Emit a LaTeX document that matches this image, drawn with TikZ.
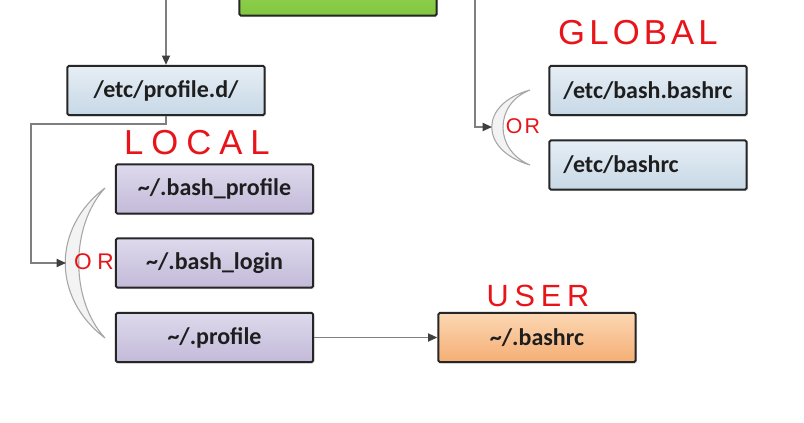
\documentclass[tikz,border=0pt]{standalone}
\usepackage{fontspec}
\setmainfont{Carlito}
\newfontfamily\handfont{Liberation Sans}
\usetikzlibrary{arrows.meta,shadows}

\definecolor{boxtext}{HTML}{1E1E1E}
\definecolor{conngray}{HTML}{7F7F7F}
\definecolor{tipgray}{HTML}{3F3F3F}
\definecolor{handred}{HTML}{E8141A}
\definecolor{greentop}{HTML}{A2DC66}
\definecolor{greenbot}{HTML}{80C63E}
\definecolor{bluetop}{HTML}{E6EEF5}
\definecolor{bluebot}{HTML}{C7D8E6}
\definecolor{purptop}{HTML}{DED9EC}
\definecolor{purpbot}{HTML}{C3BAD9}
\definecolor{orantop}{HTML}{FCD7B3}
\definecolor{oranbot}{HTML}{F5AE74}
\definecolor{moonfill}{HTML}{F3F3F3}
\definecolor{moonline}{HTML}{A6A6A6}

\tikzset{
	filebox/.style={draw=black!85, line width=1.5pt, rounded corners=1.2pt,
		minimum width=148pt, minimum height=37pt, inner sep=0pt,
		text=boxtext, font=\bfseries\fontsize{18}{20}\selectfont,
		drop shadow={opacity=0.2, shadow xshift=1pt, shadow yshift=-1pt}},
	leftbox/.style={filebox, text width=127pt, inner xsep=10.5pt, align=left},
	greenbox/.style={filebox, top color=greentop, bottom color=greenbot},
	bluebox/.style={top color=bluetop, bottom color=bluebot},
	purplebox/.style={filebox, top color=purptop, bottom color=purpbot},
	orangebox/.style={filebox, top color=orantop, bottom color=oranbot},
	conn/.style={draw=conngray, line width=1.3pt, -{Triangle[length=7pt, width=6pt, color=tipgray]}},
	moon/.style={fill=moonfill, draw=moonline, line width=0.8pt},
	hand/.style={text=handred, inner sep=0pt},
}

\begin{document}
\begin{tikzpicture}[x=0.75pt, y=-0.75pt]
		\clip (0,0) rectangle (804,422);
		\fill[white] (0,0) rectangle (804,422);
		
		\node[greenbox] (prof0) at (338,-9) {};
		\node[filebox, bluebox] (profd) at (166,90.5) {/etc/profile.d/};
		\node[leftbox, bluebox] (bbash) at (648,90.5) {/etc/bash.bashrc};
		\node[leftbox, bluebox] (ebash) at (648,165) {/etc/bashrc};
		\node[purplebox] (bprof) at (214.5,189) {\textasciitilde/.bash\_profile};
		\node[purplebox] (blogin) at (214.5,263) {\textasciitilde/.bash\_login};
		\node[purplebox] (uprof) at (214.5,337.5) {\textasciitilde/.profile};
		\node[orangebox] (ubash) at (537,337.5) {\textasciitilde/.bashrc};
		
		\path[moon] (105,188) .. controls (52,228) and (52,298) .. (105,338)
			.. controls (70,300) and (70,226) .. cycle;
		\path[moon] (530,90) .. controls (479,104) and (479,150) .. (530,165)
			.. controls (494,150) and (494,104) .. cycle;
		
		\coordinate (inL) at (166,0);
		\coordinate (inR) at (475,0);
		\coordinate (bend) at (31,124);
		\coordinate (orL) at (66,263);
		\coordinate (orR) at (492,127);
		
		\draw[conn] (inL) -- (profd.north);
		\draw[conn] (inR) |- (orR);
		\draw[conn] (profd.south) |- (bend) |- (orL);
		\draw[conn] (uprof) -- (ubash);
		
		\node[hand] (local) at (197,142.5) {\handfont\fontsize{26}{26}\selectfont\addfontfeature{LetterSpace=23}LOCAL};
		\node[hand] (global) at (638,32.5) {\handfont\fontsize{26}{26}\selectfont\addfontfeature{LetterSpace=12}GLOBAL};
		\node[hand] (user) at (538,296) {\handfont\fontsize{23}{23}\selectfont\addfontfeature{LetterSpace=19}USER};
		\node[hand] (orleft) at (94,261.5) {\handfont\fontsize{17}{17}\selectfont\addfontfeature{LetterSpace=25}OR};
		\node[hand] (orright) at (523,126.5) {\handfont\fontsize{16}{16}\selectfont\addfontfeature{LetterSpace=10}OR};
	\end{tikzpicture}
\end{document}
